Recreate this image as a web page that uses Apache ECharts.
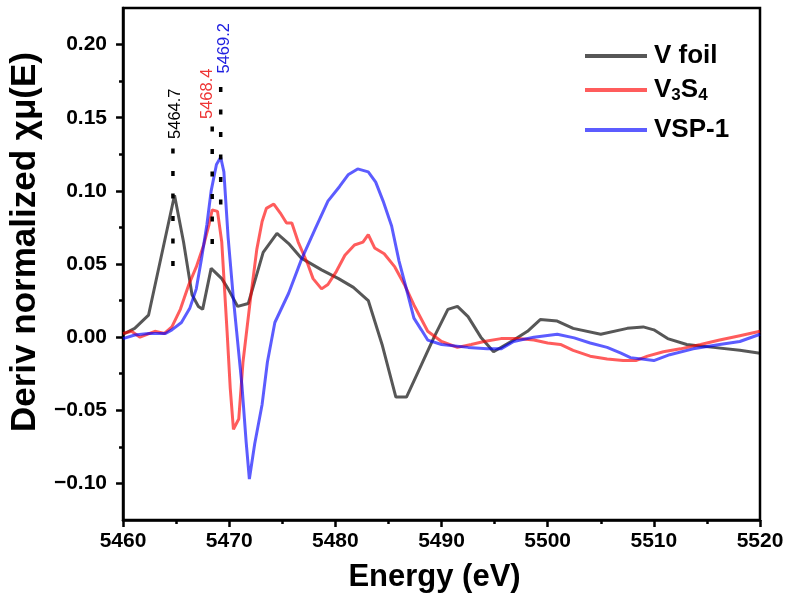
<!DOCTYPE html>
<html>
<head>
<meta charset="utf-8">
<script src="https://cdn.jsdelivr.net/npm/echarts@6/dist/echarts.min.js"></script>
<style>html,body{margin:0;padding:0;background:#fff;}#c{width:790px;height:604px;}</style>
</head>
<body>
<div id="c"></div>
<script>
// ---- data ----
const foilE = [5460.0,5461.1,5462.4,5464.85,5465.7,5466.5,5467.1,5467.5,5468.3,5469.3,5469.9,5470.8,5471.8,5473.2,5474.5,5475.6,5476.8,5478.7,5480.3,5481.7,5483.1,5484.4,5485.7,5486.7,5488.1,5489.3,5490.6,5491.5,5492.5,5493.7,5494.9,5496.8,5498.1,5499.3,5500.9,5502.4,5505.0,5507.5,5509.0,5510.0,5511.3,5513.1,5515.6,5518.1,5520.0];
const foilD = [0.002,0.006,0.015,0.097,0.065,0.029,0.021,0.019,0.047,0.040,0.033,0.021,0.023,0.058,0.071,0.064,0.054,0.046,0.040,0.034,0.025,-0.005,-0.041,-0.041,-0.019,0.0,0.019,0.021,0.014,0.0,-0.010,-0.002,0.004,0.012,0.011,0.006,0.002,0.006,0.007,0.005,-0.001,-0.005,-0.007,-0.009,-0.011];

const v3s4E = [5460.0,5460.8,5461.6,5463.0,5463.9,5464.6,5465.4,5466.2,5466.9,5467.6,5468.1,5468.4,5468.9,5469.3,5469.8,5470.1,5470.4,5470.9,5471.3,5472.0,5472.6,5473.1,5473.5,5474.2,5474.8,5475.4,5475.9,5476.5,5477.4,5477.9,5478.7,5479.3,5480.1,5480.9,5481.8,5482.6,5483.1,5483.7,5484.6,5485.6,5486.5,5487.4,5488.7,5490.0,5491.5,5492.8,5494.0,5495.6,5497.2,5498.7,5500.0,5501.2,5502.4,5504.0,5505.6,5507.1,5508.3,5509.4,5510.9,5512.5,5514.4,5516.2,5518.1,5520.0];
const v3s4D = [0.0025,0.004,0.000,0.004,0.0025,0.007,0.019,0.036,0.048,0.063,0.077,0.087,0.086,0.065,0.004,-0.035,-0.063,-0.056,-0.017,0.026,0.060,0.079,0.088,0.091,0.085,0.078,0.078,0.065,0.050,0.040,0.033,0.036,0.045,0.056,0.063,0.065,0.070,0.061,0.057,0.048,0.036,0.022,0.004,-0.003,-0.007,-0.005,-0.003,-0.001,-0.001,-0.002,-0.004,-0.005,-0.009,-0.013,-0.015,-0.016,-0.016,-0.013,-0.010,-0.008,-0.005,-0.002,0.001,0.004];

const vspE = [5460.0,5461.1,5462.4,5464.0,5464.6,5465.5,5466.3,5466.9,5467.4,5467.9,5468.3,5468.8,5469.2,5469.5,5469.9,5470.4,5470.7,5471.2,5471.6,5471.9,5472.4,5473.1,5473.6,5474.3,5475.6,5476.8,5478.1,5479.3,5480.4,5481.2,5482.1,5483.1,5483.8,5484.5,5485.3,5486.0,5486.8,5487.4,5488.1,5488.7,5490.0,5492.5,5494.3,5495.6,5496.8,5498.7,5500.9,5502.5,5504.0,5505.6,5506.9,5507.8,5510.0,5511.5,5513.7,5516.2,5518.1,5520.0];
const vspD = [-0.001,0.0015,0.0025,0.0025,0.005,0.010,0.020,0.033,0.054,0.077,0.100,0.118,0.123,0.113,0.068,0.026,0.004,-0.033,-0.072,-0.097,-0.073,-0.046,-0.017,0.010,0.030,0.053,0.074,0.093,0.103,0.111,0.115,0.113,0.106,0.093,0.076,0.052,0.030,0.013,0.005,-0.002,-0.005,-0.007,-0.008,-0.008,-0.003,0.000,0.002,-0.0005,-0.004,-0.007,-0.011,-0.014,-0.016,-0.012,-0.008,-0.005,-0.003,0.002];

const seriesNames = ['V foil', 'V3S4', 'VSP-1'];
const peakE = [5464.7, 5468.4, 5469.2];
const peakTop = [0.129, 0.144, 0.171];
const peakBottom = [0.047, 0.062, 0.089];
const peakLabels = ['5464.7', '5468.4', '5469.2'];

const xTicks = [5460, 5470, 5480, 5490, 5500, 5510, 5520];
const yMajor = [-0.10, -0.05, 0.00, 0.05, 0.10, 0.15, 0.20];
const yMinor = [-0.075, -0.025, 0.025, 0.075, 0.125, 0.175];

// ---- chart ----
const FONT = '"Liberation Sans", Arial, sans-serif';
const lineColors = ['rgba(0,0,0,0.66)', 'rgba(255,0,0,0.64)', 'rgba(0,0,255,0.64)'];
const labelColors = ['#000000', '#ee3535', '#2020e0'];
const labelDist = [9, 7, 13];
const labelOffset = [[0, 3], [0, -4.5], [0, 3.5]];

function zip(a, b) { return a.map((v, i) => [v, b[i]]); }
const dataSets = [zip(foilE, foilD), zip(v3s4E, v3s4D), zip(vspE, vspD)];

const series = [];
dataSets.forEach((d, i) => {
  series.push({
    name: seriesNames[i], type: 'line', data: d, symbol: 'none', smooth: false,
    lineStyle: { width: 3, color: lineColors[i] }, itemStyle: { color: lineColors[i] },
    z: 3 + i, animation: false
  });
});
peakE.forEach((e, i) => {
  series.push({
    type: 'line', silent: true, animation: false, z: 10,
    symbol: 'circle', symbolSize: 1, itemStyle: { color: 'rgba(0,0,0,0)' },
    lineStyle: { color: '#000', width: 3.5, type: [5, 17.5], cap: 'butt' },
    data: [
      { value: [e, peakTop[i]], label: { show: true, formatter: peakLabels[i], position: 'top', rotate: 90,
        align: 'left', verticalAlign: 'middle', distance: labelDist[i], offset: labelOffset[i],
        color: labelColors[i], fontSize: 16.5, fontFamily: FONT } },
      { value: [e, peakBottom[i]] }
    ]
  });
});

const legendBase = {
  orient: 'vertical', left: 585, padding: 0, itemWidth: 62, itemHeight: 14, itemGap: 0,
  icon: 'path://M0,0 L62,0 L62,4 L0,4 Z', selectedMode: false,
  textStyle: { fontSize: 26, fontWeight: 'bold', fontFamily: FONT, color: '#000', padding: [0, 0, 0, 2],
    rich: { s: { fontSize: 17, fontWeight: 'bold', fontFamily: FONT, color: '#000', verticalAlign: 'bottom', padding: [10, 0, 0, 0] } } }
};
function legendFor(i, top) {
  return Object.assign({}, legendBase, {
    top: top, data: [{ name: seriesNames[i], itemStyle: { color: lineColors[i] } }],
    formatter: function (n) { return n === 'V3S4' ? 'V{s|3}S{s|4}' : n; }
  });
}

const option = {
  backgroundColor: '#ffffff',
  animation: false,
  grid: { left: 121, right: 30, top: 8, bottom: 84, show: true, borderColor: '#000', borderWidth: 2.5, containLabel: false },
  legend: [legendFor(0, 43), legendFor(1, 77), legendFor(2, 117)],
  xAxis: {
    type: 'value', min: 5460, max: 5520, interval: 10,
    name: 'Energy (eV)', nameLocation: 'middle', nameGap: 42,
    nameTextStyle: { fontSize: 31, fontWeight: 'bold', fontFamily: FONT, color: '#000', padding: [0, 14, 0, 0] },
    axisLine: { show: true, onZero: false, lineStyle: { color: '#000', width: 2.5 } },
    axisTick: { show: true, length: 7, lineStyle: { color: '#000', width: 2.5 }, customValues: xTicks },
    minorTick: { show: true, splitNumber: 2, length: 4, lineStyle: { color: '#000', width: 2.5 } },
    axisLabel: { fontSize: 21, fontWeight: 'bold', fontFamily: FONT, color: '#000', margin: 11, customValues: xTicks,
      formatter: function (v) { return String(v); } },
    splitLine: { show: false }, minorSplitLine: { show: false }
  },
  yAxis: [{
    type: 'value', min: -0.125, max: 0.225, position: 'left',
    name: 'Deriv normalized χμ(E)', nameLocation: 'middle', nameGap: 78,
    nameTextStyle: { fontSize: 35, fontWeight: 'bold', fontFamily: FONT, color: '#000', padding: [0, 0, 0, 44] },
    axisLine: { show: true, onZero: false, lineStyle: { color: '#000', width: 2.5 } },
    axisTick: { show: true, length: 7, lineStyle: { color: '#000', width: 2.5 }, customValues: yMajor },
    axisLabel: { fontSize: 21, fontWeight: 'bold', fontFamily: FONT, color: '#000', margin: 16, customValues: yMajor,
      formatter: function (v) { return v.toFixed(2).replace('-', '\u2212'); } },
    splitLine: { show: false }
  }, {
    type: 'value', min: -0.125, max: 0.225, position: 'left', alignTicks: false,
    axisLine: { show: false, onZero: false },
    axisTick: { show: true, length: 4, lineStyle: { color: '#000', width: 2.5 }, customValues: yMinor },
    axisLabel: { show: false }, splitLine: { show: false }
  }],
  series: series
};

const chart = echarts.init(document.getElementById('c'), null, { renderer: 'canvas' });
chart.setOption(option);
</script>
</body>
</html>
